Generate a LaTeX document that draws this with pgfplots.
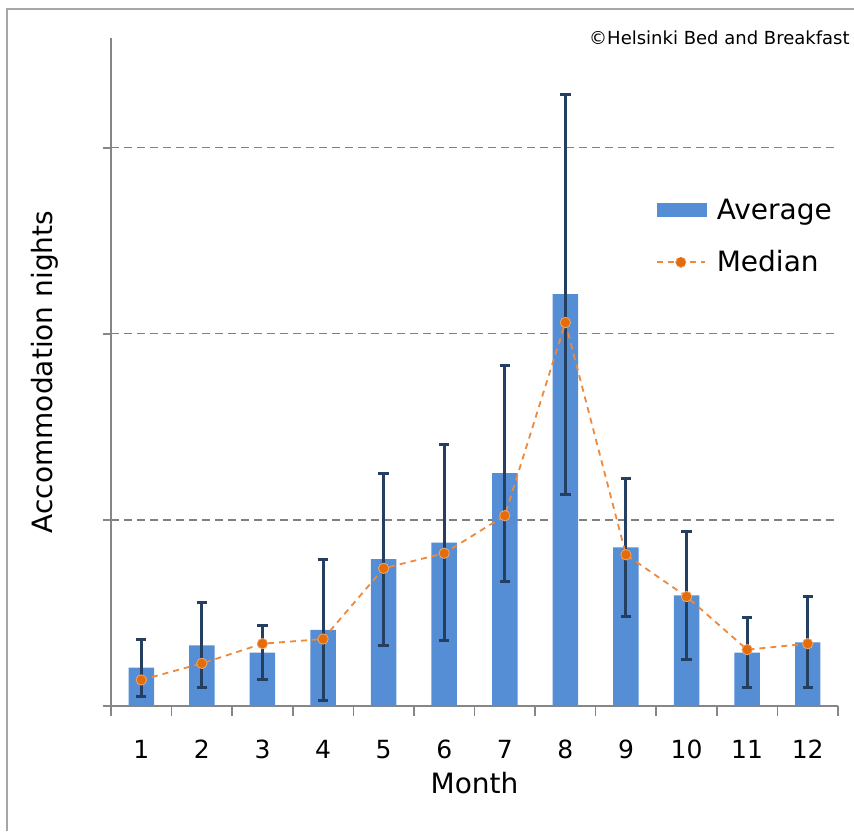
\documentclass[border=0pt]{standalone}
\usepackage{pgfplots}
\pgfplotsset{compat=1.18}
\usepackage{pgfplotstable}
\usepackage{fontspec}
\setmainfont{DejaVu Sans}

\definecolor{barblue}{HTML}{558ED5}
\definecolor{errnavy}{HTML}{243F60}
\definecolor{medline}{HTML}{F0883A}
\definecolor{medmark}{HTML}{E46C0A}
\definecolor{axgray}{HTML}{868686}
\definecolor{gridgray}{HTML}{808080}
\definecolor{framegray}{HTML}{A6A6A6}

% month, average, error (std), median -- gridline = 10
\pgfplotstableread{
month avg  err  med
1     2.06 1.53 1.40
2     3.26 2.28 2.29
3     2.87 1.46 3.35
4     4.09 3.81 3.60
5     7.89 4.62 7.40
6     8.78 5.27 8.21
7     12.51 5.80 10.23
8     22.13 10.76 20.61
9     8.53 3.72 8.13
10    5.95 3.45 5.88
11    2.87 1.88 3.03
12    3.42 2.44 3.35
}\nights

\begin{document}
\begin{tikzpicture}
  \useasboundingbox (-55.5pt,-62.5pt) rectangle (371.5pt,353pt);
  \draw[framegray, line width=0.8pt] (-52pt,-62.5pt) -- (-52pt,348.5pt) -- (371.5pt,348.5pt);
  \begin{axis}[
      scale only axis,
      width=363.5pt, height=334pt,
      xmin=0.5, xmax=12.5,
      ymin=0, ymax=35.9,
      axis x line*=bottom,
      axis y line*=left,
      axis line style={axgray, line width=0.8pt},
      xtick={1,...,12},
      minor xtick={0.5,1.5,...,12.5},
      major x tick style={draw=none},
      minor x tick style={axgray, line width=0.8pt},
      minor tick length=5pt,
      ytick={0,10,20,30},
      yticklabels={},
      y tick style={axgray, line width=0.8pt},
      major tick length=4pt,
      tick align=outside,
      ymajorgrids,
      grid style={gridgray, line width=0.6pt, dash pattern=on 4pt off 2.5pt},
      /pgf/number format/assume math mode=true,
      tick label style={font=\fontsize{12.5}{14}\selectfont},
      xticklabel style={anchor=base, yshift=-22pt},
      xlabel={Month},
      ylabel={Accommodation nights},
      label style={font=\fontsize{14}{16}\selectfont},
      xlabel style={at={(axis description cs:0.5,0)}, anchor=center, yshift=-38.5pt},
      ylabel style={at={(axis description cs:0,0.5)}, anchor=center, yshift=33pt},
      legend style={draw=none, fill=none, at={(rel axis cs:0.749,0.766)}, anchor=north west,
        font=\fontsize{14}{16}\selectfont, row sep=10pt, column sep=3pt, inner sep=0pt},
      legend cell align=left,
    ]

    \addplot[ybar, bar width=0.42, fill=barblue, draw=none,
      legend image code/.code={\fill[barblue] (0pt,-3.5pt) rectangle (25pt,3.5pt);},
      error bars/.cd, y dir=both, y explicit,
      error bar style={errnavy, line width=1.5pt},
      error mark options={errnavy, line width=1.5pt, mark size=2.6pt, rotate=90}]
      table[x=month, y=avg, y error=err] {\nights};
    \addlegendentry{Average}

    \addplot[medline, line width=0.9pt, dash pattern=on 3pt off 2.5pt,
      mark=*, mark size=2.6pt,
      mark options={solid, fill=medmark, draw=medmark!60!white, line width=0.4pt},
      legend image code/.code={
        \draw[medline, line width=0.9pt, dash pattern=on 3pt off 2.5pt] (0pt,0pt) -- (24pt,0pt);
        \filldraw[fill=medmark, draw=medmark!60!white, line width=0.4pt] (12pt,0pt) circle (2.6pt);}]
      table[x=month, y=med] {\nights};
    \addlegendentry{Median}

  \end{axis}
  \node[anchor=east, inner sep=0pt, font=\fontsize{9}{11}\selectfont] at (369.5pt,334pt)
    {©Helsinki Bed and Breakfast};
\end{tikzpicture}
\end{document}
